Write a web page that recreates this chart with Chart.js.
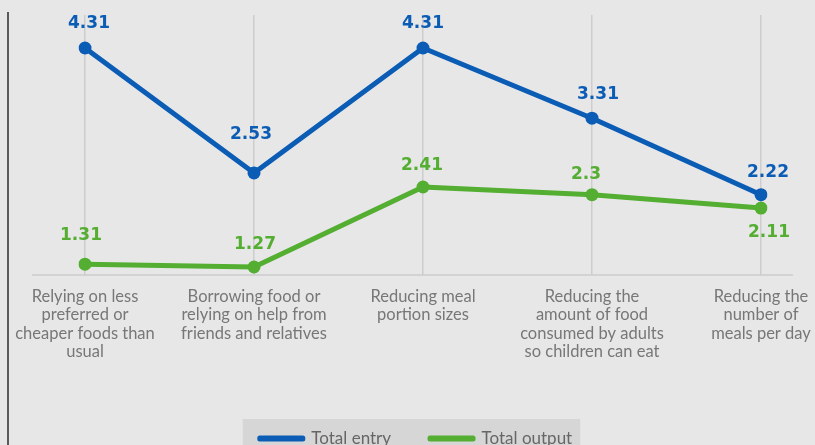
<!DOCTYPE html>
<html>
<head>
<meta charset="utf-8">
<script src="https://cdn.jsdelivr.net/npm/chart.js@4.4.1/dist/chart.umd.min.js"></script>
<style>
  html, body { margin: 0; padding: 0; background: #e7e7e7; overflow: hidden; }
  #wrap { position: relative; width: 815px; height: 445px; overflow: hidden; }
  #frame { position: absolute; left: 7px; top: 12px; width: 0; height: 440px; border-left: 2px solid #5a5a5a; }
  #box { position: absolute; left: 0; top: 0; width: 815px; height: 457px; }
</style>
</head>
<body>
<div id="wrap">
  <div id="frame"></div>
  <div id="box"><canvas id="chart"></canvas></div>
</div>
<script>
/** Data **/

const categories = [
    ["Relying on less", "preferred or", "cheaper foods than", "usual"],
    ["Borrowing food or", "relying on help from", "friends and relatives"],
    ["Reducing meal", "portion sizes"],
    ["Reducing the", "amount of food", "consumed by adults", "so children can eat"],
    ["Reducing the", "number of", "meals per day"]
];
const total_entry = [4.31, 2.53, 4.31, 3.31, 2.22];
const total_output = [1.31, 1.27, 2.41, 2.3, 2.11];
const series_names = ["Total entry", "Total output"];

/** Colors **/

const entry_color = "#0b5cb5";
const output_color = "#54ae31";
const grid_color = "#cdcdcd";
const text_color = "#777777";

// value label offsets (dx, dy) from each point
const entry_label_offsets = [[4, -24], [-3, -38], [0, -24], [6, -24], [7, -22]];
const output_label_offsets = [[-4, -29], [1, -22], [-1, -21], [-6, -20], [8, 25]];

/** Plugins **/

// Value labels drawn next to every point
const valueLabels = {
    id: "valueLabels",
    afterDatasetsDraw(chart) {
        const ctx = chart.ctx;
        ctx.save();
        ctx.font = "bold 17px 'DejaVu Sans'";
        ctx.textAlign = "center";
        ctx.textBaseline = "middle";
        chart.data.datasets.forEach(function(ds, i) {
            const offsets = i === 0 ? entry_label_offsets : output_label_offsets;
            chart.getDatasetMeta(i).data.forEach(function(pt, j) {
                ctx.fillStyle = ds.borderColor;
                ctx.fillText(String(ds.data[j]), pt.x + offsets[j][0], pt.y + offsets[j][1]);
            });
        });
        ctx.restore();
    }
};

// Longer baseline under the plot and grey box behind the legend
const decorations = {
    id: "decorations",
    afterLayout(chart) {
        // center the legend on the page rather than on the plot area
        if (chart.legend) {
            chart.legend.left = 17;
            chart.legend.right = chart.width;
        }
    },
    beforeDraw(chart) {
        const ctx = chart.ctx;
        const area = chart.chartArea;
        ctx.save();
        ctx.strokeStyle = grid_color;
        ctx.lineWidth = 1.5;
        ctx.beginPath();
        ctx.moveTo(area.left - 53, area.bottom);
        ctx.lineTo(area.right + 32, area.bottom);
        ctx.stroke();

        const legend = chart.legend;
        if (legend && legend.legendHitBoxes.length) {
            const boxes = legend.legendHitBoxes;
            const left = Math.min.apply(null, boxes.map(b => b.left)) - 17;
            const right = Math.max.apply(null, boxes.map(b => b.left + b.width)) + 8;
            ctx.fillStyle = "#d6d6d6";
            ctx.fillRect(left, boxes[0].top - 11, right - left, 60);
        }
        ctx.restore();
    }
};

/** Chart **/

new Chart(document.getElementById("chart"), {
    type: "line",
    data: {
        labels: categories,
        datasets: [{
            label: series_names[0],
            data: total_entry,
            borderColor: entry_color,
            backgroundColor: entry_color,
            borderWidth: 5,
            borderJoinStyle: "round",
            borderCapStyle: "round",
            pointRadius: 6.5,
            pointHoverRadius: 6.5,
            pointBorderWidth: 0,
            yAxisID: "y"
        }, {
            label: series_names[1],
            data: total_output,
            borderColor: output_color,
            backgroundColor: output_color,
            borderWidth: 5,
            borderJoinStyle: "round",
            borderCapStyle: "round",
            pointRadius: 6.5,
            pointHoverRadius: 6.5,
            pointBorderWidth: 0,
            yAxisID: "y1"
        }]
    },
    options: {
        responsive: true,
        maintainAspectRatio: false,
        animation: false,
        layout: {
            padding: { left: 85, right: 54, top: 15, bottom: 0 }
        },
        scales: {
            x: {
                offset: false,
                border: { display: false },
                grid: {
                    color: grid_color,
                    lineWidth: 1.5,
                    drawTicks: false
                },
                ticks: {
                    color: text_color,
                    padding: 12,
                    maxRotation: 0,
                    autoSkip: false,
                    font: { family: "Lato", size: 16.5, lineHeight: 1.12 }
                },
                afterFit(scale) {
                    // fixed axis band, and let the long labels hang outside the plot
                    scale.height = 116;
                    scale.paddingLeft = 0;
                    scale.paddingRight = 0;
                }
            },
            y: { display: false, min: 1.076, max: 4.78 },
            y1: { display: false, min: 1.156, max: 4.86 }
        },
        plugins: {
            legend: {
                position: "bottom",
                labels: {
                    color: "#666666",
                    boxWidth: 43,
                    boxHeight: 1,
                    padding: 39,
                    font: { family: "Lato", size: 17 }
                }
            },
            tooltip: { enabled: false }
        }
    },
    plugins: [decorations, valueLabels]
});
</script>
</body>
</html>
